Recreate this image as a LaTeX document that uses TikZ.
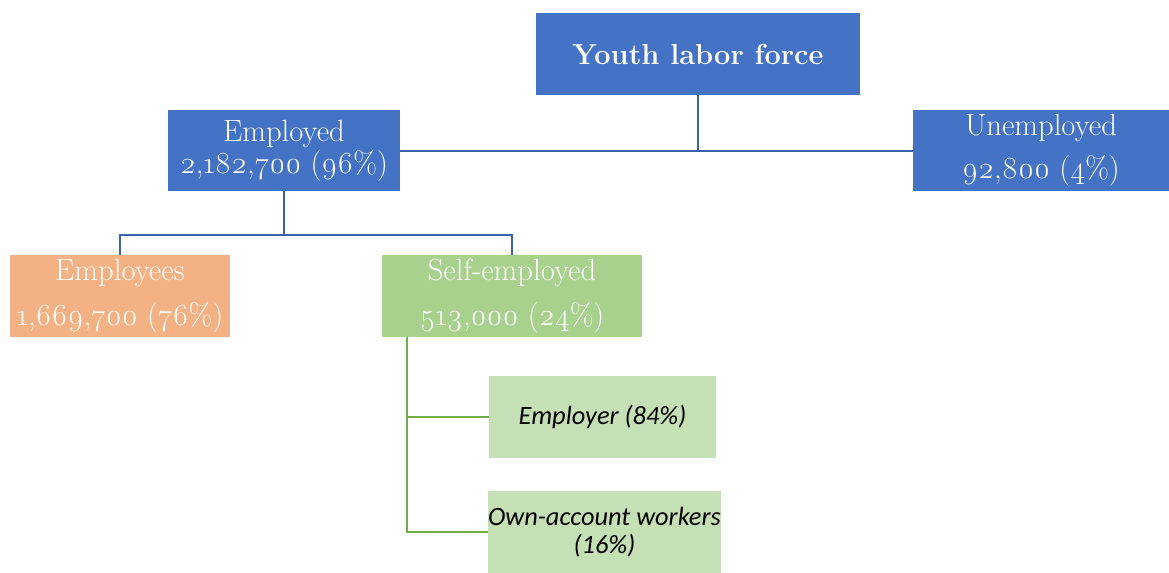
\documentclass[tikz,border=0pt]{standalone}
\usepackage{fontspec}
\setmainfont{Latin Modern Roman}[Numbers=OldStyle]
\newfontfamily\labfont{Carlito}
\usepackage{tikz}
\usetikzlibrary{positioning,calc}
\definecolor{bluebox}{HTML}{4472C4}
\definecolor{blueline}{HTML}{3A62AD}
\definecolor{orangebox}{HTML}{F4B183}
\definecolor{greenbox}{HTML}{A9D18E}
\definecolor{paleg}{HTML}{C5E0B4}
\definecolor{greenline}{HTML}{70AD47}

\begin{document}
\begin{tikzpicture}[x=0.75pt, y=-0.75pt,
  box/.style={draw=none, inner sep=0pt, align=center, text=white,
    font=\fontsize{23}{24}\selectfont},
  top/.style={box, fill=bluebox, minimum width=243pt, minimum height=61.5pt,
    font=\fontsize{21.7}{25}\selectfont\bfseries},
  mid/.style={box, fill=bluebox, minimum height=61pt},
  sub/.style={box, minimum height=61.5pt},
  leaf/.style={box, fill=paleg, text=black, minimum height=61pt,
    font=\labfont\itshape\fontsize{19.8}{21}\selectfont},
  blink/.style={blueline, line width=1.5pt},
  glink/.style={greenline, line width=1.1pt}]
  \useasboundingbox (0,0) rectangle (1169,572);
  % boxes
  \node[top] (yl) at (698,54) {Youth labor force};
  \node[mid, minimum width=174pt] (em) at (284,150.5) {Employed\\2,182,700 (96\%)};
  \node[mid, minimum width=192pt] (un) at (1041,150.5) {Unemployed\\[8pt]92,800 (4\%)};
  \node[sub, fill=orangebox, minimum width=165pt] (ee) at (120,296) {Employees\\[10pt]1,669,700 (76\%)};
  \node[sub, fill=greenbox, minimum width=195pt] (se) at (512,296) {Self-employed\\[10pt]513,000 (24\%)};
  \node[leaf, minimum width=170pt] (er) at (602.5,417) {Employer (84\%)};
  \node[leaf, minimum width=173pt] (ow) at (604.5,532) {Own-account workers\\(16\%)};
  % connectors
  \draw[blink] (yl.south) -- (yl.south |- em.east);
  \draw[blink] (em.east) -- (un.west);
  \coordinate (j1) at ($(em.south)+(0,44)$);
  \draw[blink] (em.south) -- (j1);
  \draw[blink] (ee.north) -- ++(0,-20) -| (se.north);
  \coordinate (j2) at (407,337);
  \draw[glink] (j2) |- (ow.west);
  \draw[glink] (j2 |- er.west) -- (er.west);
\end{tikzpicture}
\end{document}
